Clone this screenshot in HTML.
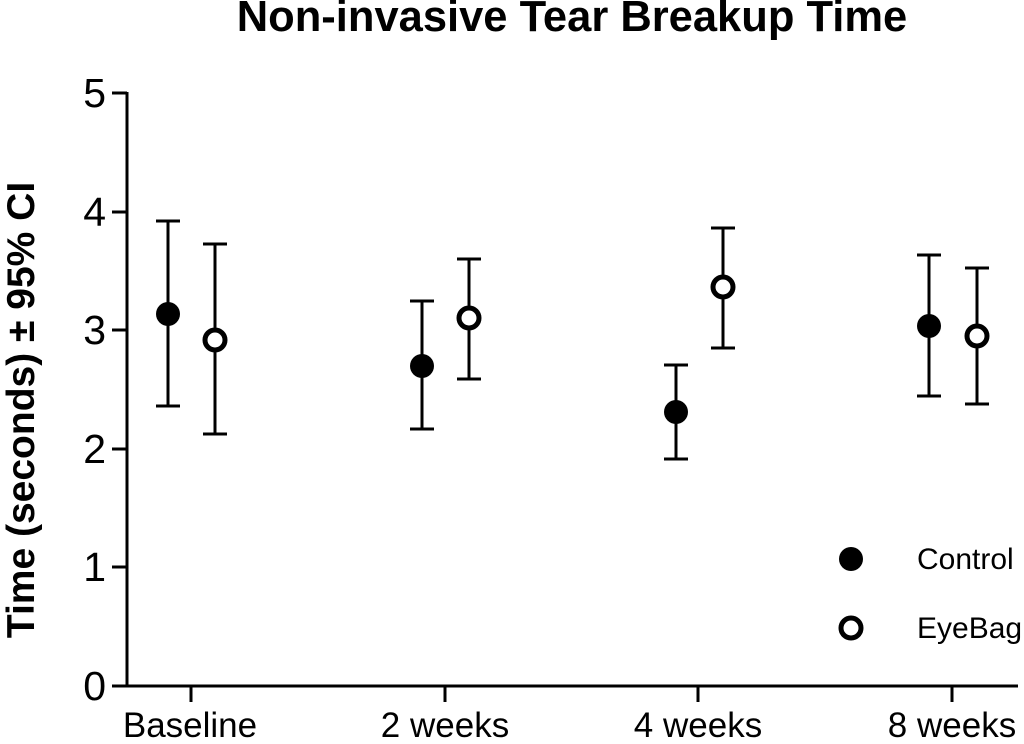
<!DOCTYPE html>
<html><head><style>body{margin:0;background:#fff}</style></head><body>
<svg width="1024" height="739" xmlns="http://www.w3.org/2000/svg" font-family="Liberation Sans, sans-serif">
<rect width="1024" height="739" fill="#fff"/>
<text x="572" y="31" font-size="43.5" font-weight="bold" text-anchor="middle">Non-invasive Tear Breakup Time</text>
<text transform="translate(34,410) rotate(-90)" font-size="39" font-weight="bold" text-anchor="middle">Time (seconds) ± 95% CI</text>
<g stroke="#000" stroke-width="3" fill="none">
<line x1="127" y1="92" x2="127" y2="687"/>
<line x1="126" y1="686" x2="1018" y2="686"/>
<line x1="112" y1="93" x2="127" y2="93"/>
<line x1="112" y1="212" x2="127" y2="212"/>
<line x1="112" y1="330" x2="127" y2="330"/>
<line x1="112" y1="449" x2="127" y2="449"/>
<line x1="112" y1="567" x2="127" y2="567"/>
<line x1="112" y1="686" x2="127" y2="686"/>
<line x1="191" y1="686" x2="191" y2="702"/>
<line x1="445" y1="686" x2="445" y2="702"/>
<line x1="698" y1="686" x2="698" y2="702"/>
<line x1="952" y1="686" x2="952" y2="702"/>
</g>
<g font-size="41" text-anchor="end">
<text x="106" y="107">5</text><text x="106" y="226">4</text><text x="106" y="344">3</text><text x="106" y="463">2</text><text x="106" y="581">1</text><text x="106" y="700">0</text>
</g>
<g font-size="35" text-anchor="middle">
<text x="190" y="737">Baseline</text><text x="445" y="737">2 weeks</text><text x="698" y="737">4 weeks</text><text x="952" y="737">8 weeks</text>
</g>
<g stroke="#000" stroke-width="3">
<line x1="168" y1="221" x2="168" y2="406"/><line x1="156" y1="221" x2="180" y2="221"/><line x1="156" y1="406" x2="180" y2="406"/>
<line x1="215" y1="244" x2="215" y2="434"/><line x1="203" y1="244" x2="227" y2="244"/><line x1="203" y1="434" x2="227" y2="434"/>
<line x1="422" y1="301" x2="422" y2="429"/><line x1="410" y1="301" x2="434" y2="301"/><line x1="410" y1="429" x2="434" y2="429"/>
<line x1="469" y1="259" x2="469" y2="379"/><line x1="457" y1="259" x2="481" y2="259"/><line x1="457" y1="379" x2="481" y2="379"/>
<line x1="676" y1="365" x2="676" y2="459"/><line x1="664" y1="365" x2="688" y2="365"/><line x1="664" y1="459" x2="688" y2="459"/>
<line x1="723" y1="228" x2="723" y2="348"/><line x1="711" y1="228" x2="735" y2="228"/><line x1="711" y1="348" x2="735" y2="348"/>
<line x1="929" y1="255" x2="929" y2="396"/><line x1="917" y1="255" x2="941" y2="255"/><line x1="917" y1="396" x2="941" y2="396"/>
<line x1="977" y1="268" x2="977" y2="404"/><line x1="965" y1="268" x2="989" y2="268"/><line x1="965" y1="404" x2="989" y2="404"/>
</g>
<g fill="#000">
<circle cx="168" cy="314" r="12"/><circle cx="422" cy="366" r="12"/><circle cx="676" cy="412" r="12"/><circle cx="929" cy="326" r="12"/><circle cx="851" cy="559" r="12"/>
</g>
<g fill="#fff" stroke="#000" stroke-width="5">
<circle cx="215" cy="340" r="10"/><circle cx="469" cy="318" r="10"/><circle cx="723" cy="287" r="10"/><circle cx="977" cy="336" r="10"/><circle cx="851" cy="628" r="10"/>
</g>
<g font-size="30">
<text x="917" y="569">Control</text><text x="917" y="638">EyeBag</text>
</g>
</svg>
</body></html>
